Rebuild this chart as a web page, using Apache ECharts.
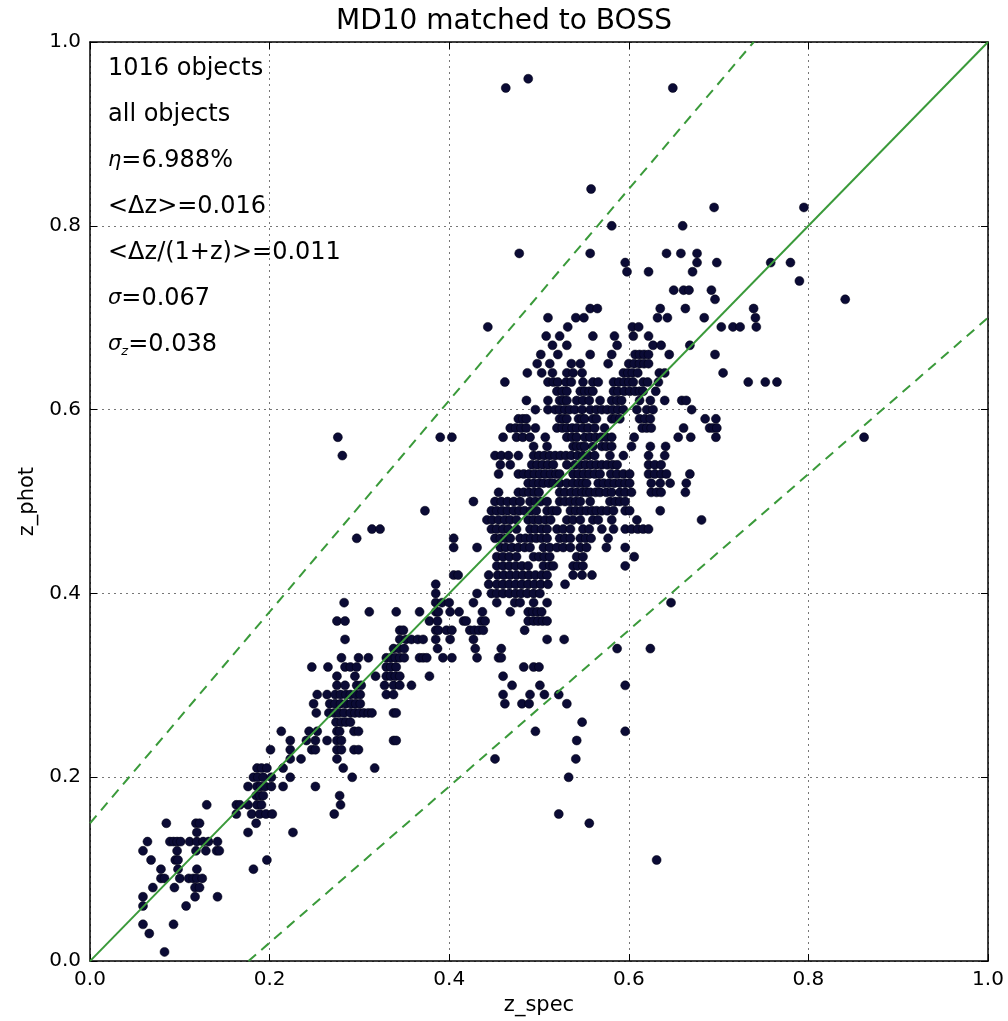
<!DOCTYPE html>
<html><head><meta charset="utf-8">
<script src="https://cdn.jsdelivr.net/npm/echarts@6/dist/echarts.min.js"></script>
<style>html,body{margin:0;padding:0;background:#fff}#c{width:1008px;height:1021px}</style>
</head><body><div id="c"></div>
<script>
// z_phot value of each row of points (photometric redshift is binned in 0.01 steps)
const photRows = [0.01,0.03,0.04,0.06,0.07,0.08,0.09,0.10,0.11,0.12,0.13,0.14,0.15,0.16,0.17,0.18,0.19,0.20,
  0.21,0.22,0.23,0.24,0.25,0.26,0.27,0.28,0.29,0.30,0.31,0.32,0.33,0.34,0.35,0.36,0.37,0.38,0.39,0.40,
  0.41,0.42,0.43,0.44,0.45,0.46,0.47,0.48,0.49,0.50,0.51,0.52,0.53,0.54,0.55,0.56,0.57,0.58,0.59,0.60,
  0.61,0.62,0.63,0.64,0.65,0.66,0.67,0.68,0.69,0.70,0.71,0.72,0.73,0.74,0.75,0.76,0.77,0.80,0.82,0.84,0.95,0.96];
// z_spec values of the points in each row
const specByRow = [
  [0.083],
  [0.066],
  [0.059,0.093],
  [0.059,0.107],
  [0.059,0.117,0.142],
  [0.070,0.094,0.117,0.122],
  [0.079,0.083,0.100,0.110,0.115,0.119,0.125],
  [0.079,0.098,0.119,0.182],
  [0.068,0.095,0.098,0.197,0.631],
  [0.059,0.097,0.118,0.129,0.141,0.144],
  [0.064,0.089,0.093,0.097,0.101,0.111,0.119,0.126,0.132,0.142],
  [0.119,0.176,0.226],
  [0.085,0.118,0.122,0.185,0.556],
  [0.163,0.180,0.189,0.196,0.203,0.272,0.522],
  [0.130,0.163,0.167,0.176,0.186,0.191,0.279],
  [0.185,0.189,0.193,0.278],
  [0.176,0.186,0.190,0.195,0.202,0.215,0.251],
  [0.182,0.187,0.193,0.202,0.223,0.292,0.533],
  [0.186,0.191,0.197,0.215,0.282,0.317],
  [0.223,0.235,0.275,0.451,0.541],
  [0.201,0.223,0.247,0.251,0.275,0.280,0.294,0.299],
  [0.223,0.241,0.251,0.264,0.275,0.280,0.338,0.341,0.542],
  [0.213,0.244,0.253,0.275,0.278,0.294,0.299,0.496,0.596],
  [0.274,0.280,0.285,0.290,0.548],
  [0.252,0.266,0.272,0.277,0.283,0.290,0.295,0.300,0.305,0.310,0.314,0.338,0.341],
  [0.249,0.267,0.273,0.279,0.285,0.291,0.296,0.301,0.462,0.481,0.489,0.531],
  [0.253,0.264,0.273,0.279,0.285,0.290,0.296,0.301,0.330,0.338,0.460,0.490,0.506,0.522],
  [0.275,0.284,0.297,0.302,0.328,0.338,0.345,0.358,0.470,0.501,0.596],
  [0.275,0.295,0.318,0.330,0.335,0.340,0.345,0.378,0.460],
  [0.247,0.265,0.284,0.290,0.297,0.330,0.335,0.341,0.483,0.494,0.500],
  [0.280,0.299,0.310,0.330,0.335,0.340,0.345,0.350,0.367,0.371,0.375,0.393,0.403,0.431,0.455,0.458],
  [0.338,0.344,0.350,0.387,0.429,0.458,0.587,0.624],
  [0.284,0.345,0.352,0.358,0.365,0.371,0.385,0.401,0.427,0.509,0.528],
  [0.345,0.349,0.385,0.388,0.397,0.403,0.423,0.428,0.433,0.438,0.484],
  [0.275,0.284,0.378,0.387,0.416,0.419,0.436,0.440,0.488,0.494,0.499,0.504,0.509],
  [0.311,0.341,0.367,0.385,0.388,0.401,0.411,0.437,0.468,0.488,0.493,0.498,0.503],
  [0.283,0.385,0.392,0.400,0.427,0.453,0.473,0.479,0.494,0.509,0.647],
  [0.385,0.431,0.447,0.453,0.460,0.467,0.474,0.480,0.487,0.494,0.501],
  [0.385,0.444,0.453,0.460,0.467,0.474,0.481,0.488,0.495,0.502,0.510,0.529],
  [0.405,0.410,0.444,0.454,0.461,0.468,0.475,0.482,0.489,0.496,0.503,0.509,0.538,0.548,0.559],
  [0.453,0.460,0.467,0.474,0.481,0.488,0.505,0.512,0.516,0.538,0.543,0.549,0.596],
  [0.453,0.460,0.467,0.475,0.494,0.500,0.506,0.512,0.542,0.549,0.606],
  [0.405,0.431,0.457,0.463,0.470,0.477,0.484,0.490,0.505,0.512,0.520,0.527,0.535,0.546,0.553,0.575,0.596],
  [0.297,0.405,0.451,0.457,0.463,0.468,0.479,0.485,0.491,0.497,0.503,0.509,0.523,0.529,0.535,0.546,0.552,0.558,0.577],
  [0.314,0.323,0.447,0.453,0.460,0.466,0.475,0.490,0.496,0.503,0.509,0.520,0.527,0.535,0.549,0.556,0.570,0.583,0.596,0.603,0.610,0.616,0.622],
  [0.442,0.448,0.455,0.462,0.468,0.475,0.488,0.494,0.500,0.507,0.513,0.531,0.538,0.546,0.560,0.566,0.581,0.609,0.681],
  [0.373,0.447,0.453,0.459,0.465,0.472,0.478,0.484,0.491,0.497,0.509,0.515,0.520,0.535,0.541,0.547,0.553,0.559,0.564,0.570,0.576,0.583,0.596,0.601,0.635],
  [0.427,0.451,0.458,0.465,0.472,0.479,0.490,0.496,0.502,0.509,0.523,0.529,0.535,0.541,0.546,0.557,0.579,0.585,0.590,0.596],
  [0.455,0.477,0.483,0.489,0.495,0.500,0.523,0.529,0.536,0.542,0.548,0.553,0.557,0.563,0.568,0.575,0.581,0.590,0.596,0.603,0.625,0.631,0.636,0.663],
  [0.488,0.494,0.500,0.505,0.511,0.516,0.523,0.531,0.538,0.544,0.549,0.553,0.566,0.572,0.578,0.584,0.590,0.596,0.601,0.625,0.635,0.646,0.664],
  [0.455,0.477,0.483,0.489,0.495,0.501,0.507,0.513,0.519,0.523,0.538,0.544,0.550,0.556,0.562,0.568,0.580,0.587,0.594,0.601,0.622,0.629,0.636,0.642,0.668],
  [0.457,0.468,0.492,0.498,0.504,0.510,0.516,0.531,0.540,0.546,0.552,0.558,0.564,0.570,0.576,0.582,0.587,0.622,0.629,0.636],
  [0.281,0.451,0.458,0.466,0.477,0.494,0.500,0.506,0.512,0.518,0.524,0.530,0.536,0.543,0.549,0.555,0.562,0.579,0.594,0.622,0.640],
  [0.494,0.509,0.538,0.542,0.547,0.551,0.560,0.570,0.575,0.581,0.603,0.624,0.641],
  [0.276,0.390,0.403,0.460,0.475,0.482,0.490,0.507,0.531,0.537,0.542,0.551,0.557,0.563,0.569,0.575,0.581,0.606,0.655,0.669,0.697,0.862],
  [0.468,0.474,0.480,0.486,0.496,0.520,0.526,0.531,0.537,0.542,0.549,0.555,0.562,0.573,0.615,0.620,0.625,0.661,0.690,0.694,0.698],
  [0.477,0.482,0.486,0.523,0.527,0.531,0.544,0.548,0.551,0.560,0.564,0.581,0.585,0.590,0.612,0.618,0.624,0.685,0.697],
  [0.496,0.510,0.518,0.523,0.529,0.534,0.540,0.548,0.557,0.564,0.570,0.576,0.582,0.588,0.594,0.609,0.620,0.627,0.670],
  [0.486,0.510,0.523,0.527,0.531,0.542,0.549,0.556,0.568,0.581,0.587,0.592,0.612,0.624,0.640,0.659,0.664],
  [0.520,0.526,0.531,0.546,0.551,0.556,0.560,0.583,0.588,0.595,0.601,0.607,0.612,0.616,0.630],
  [0.462,0.510,0.516,0.521,0.530,0.536,0.549,0.560,0.566,0.583,0.589,0.595,0.600,0.605,0.616,0.621,0.633,0.733,0.752,0.765],
  [0.487,0.503,0.515,0.531,0.538,0.548,0.594,0.599,0.604,0.610,0.634,0.640,0.705],
  [0.498,0.512,0.536,0.546,0.577,0.600,0.606,0.612,0.617,0.622],
  [0.502,0.521,0.557,0.581,0.607,0.612,0.617,0.622,0.645,0.696],
  [0.515,0.531,0.587,0.627,0.636,0.668],
  [0.508,0.523,0.560,0.584,0.605,0.622],
  [0.443,0.532,0.604,0.611,0.703,0.716,0.724,0.742],
  [0.510,0.541,0.550,0.632,0.643,0.684,0.741],
  [0.557,0.565,0.635,0.663,0.739],
  [0.696,0.841],
  [0.650,0.661,0.667,0.692],
  [0.790],
  [0.598,0.622,0.671],
  [0.596,0.676,0.698,0.758,0.780],
  [0.478,0.557,0.642,0.658,0.676],
  [0.581,0.660],
  [0.695,0.795],
  [0.558],
  [0.463,0.649],
  [0.488]
];
const axisTicks = [0.0, 0.2, 0.4, 0.6, 0.8, 1.0];
const outlierCut = 0.15;   // |dz|/(1+z) boundary drawn as dashed lines
const statLines = [
  '1016 objects',
  'all objects',
  '{i|η}=6.988%',
  '<Δz>=0.016',
  '<Δz/(1+z)>=0.011',
  '{i|σ}=0.067',
  '{i|σ}{s|z}=0.038'
];

const points = [];
photRows.forEach((zp, i) => specByRow[i].forEach(zs => points.push([zs, zp])));

const lo = axisTicks[0], hi = axisTicks[axisTicks.length - 1];
const step = axisTicks[1] - axisTicks[0];
const oneToOne = [[lo, lo], [hi, hi]];
const upper = [[lo, outlierCut], [(hi - outlierCut) / (1 + outlierCut), hi]];
const lower = [[outlierCut / (1 - outlierCut), lo], [hi, hi * (1 - outlierCut) - outlierCut]];

const FONT = 'DejaVu Sans';
const green = '#3a9a3a';
const grid = {left: 90, right: 20, top: 42, bottom: 56};

const chart = echarts.init(document.getElementById('c'), null, {renderer: 'canvas'});
const labelStyle = {color: '#000', fontFamily: FONT, fontSize: 20, margin: 9, formatter: v => v.toFixed(1)};
const mainAxis = (extra) => Object.assign({
  type: 'value', min: lo, max: hi, interval: step,
  axisLine: {show: true, onZero: false, lineStyle: {color: '#000', width: 1.5}},
  axisTick: {show: true, inside: true, length: 7, lineStyle: {color: '#000', width: 1}},
  axisLabel: labelStyle,
  splitLine: {show: true, lineStyle: {color: '#777', type: [2, 4], width: 1}},
  nameTextStyle: {color: '#000', fontFamily: FONT, fontSize: 21}
}, extra);
const sideAxis = (extra) => Object.assign({
  type: 'value', min: lo, max: hi, interval: step,
  axisLine: {show: true, onZero: false, lineStyle: {color: '#000', width: 1.5}},
  axisTick: {show: true, inside: true, length: 7, lineStyle: {color: '#000', width: 1}},
  axisLabel: {show: false}, splitLine: {show: false}
}, extra);

chart.setOption({
  animation: false,
  backgroundColor: '#fff',
  title: {text: 'MD10 matched to BOSS', left: 'center', top: 3,
    textStyle: {fontFamily: FONT, fontSize: 28, fontWeight: 'normal', color: '#000'}},
  grid: grid,
  xAxis: [
    mainAxis({position: 'bottom', name: 'z_spec', nameLocation: 'middle', nameGap: 32}),
    sideAxis({position: 'top'})
  ],
  yAxis: [
    mainAxis({position: 'left', name: 'z_phot', nameLocation: 'middle', nameGap: 52}),
    sideAxis({position: 'right'})
  ],
  graphic: statLines.map((t, i) => ({
    type: 'text', left: 108, top: 57 + i * 46, z: 100,
    style: {text: t, fontFamily: FONT, fontSize: 24, fill: '#000',
      rich: {
        i: {fontFamily: FONT, fontStyle: 'italic', fontSize: 21, fill: '#000'},
        s: {fontFamily: FONT, fontStyle: 'italic', fontSize: 13, fill: '#000', padding: [14, 0, 0, 0]}
      }}
  })),
  series: [
    {type: 'scatter', data: points, symbol: 'circle', symbolSize: 9, z: 2,
      itemStyle: {color: '#0b0b35', borderColor: '#000010', borderWidth: 0.5, opacity: 1}},
    {type: 'line', data: oneToOne, symbol: 'none', z: 5, clip: true,
      lineStyle: {color: green, width: 2}},
    {type: 'line', data: upper, symbol: 'none', z: 5, clip: true,
      lineStyle: {color: green, width: 2, type: [10, 7]}},
    {type: 'line', data: lower, symbol: 'none', z: 5, clip: true,
      lineStyle: {color: green, width: 2, type: [10, 7]}}
  ]
});
</script>
</body></html>
